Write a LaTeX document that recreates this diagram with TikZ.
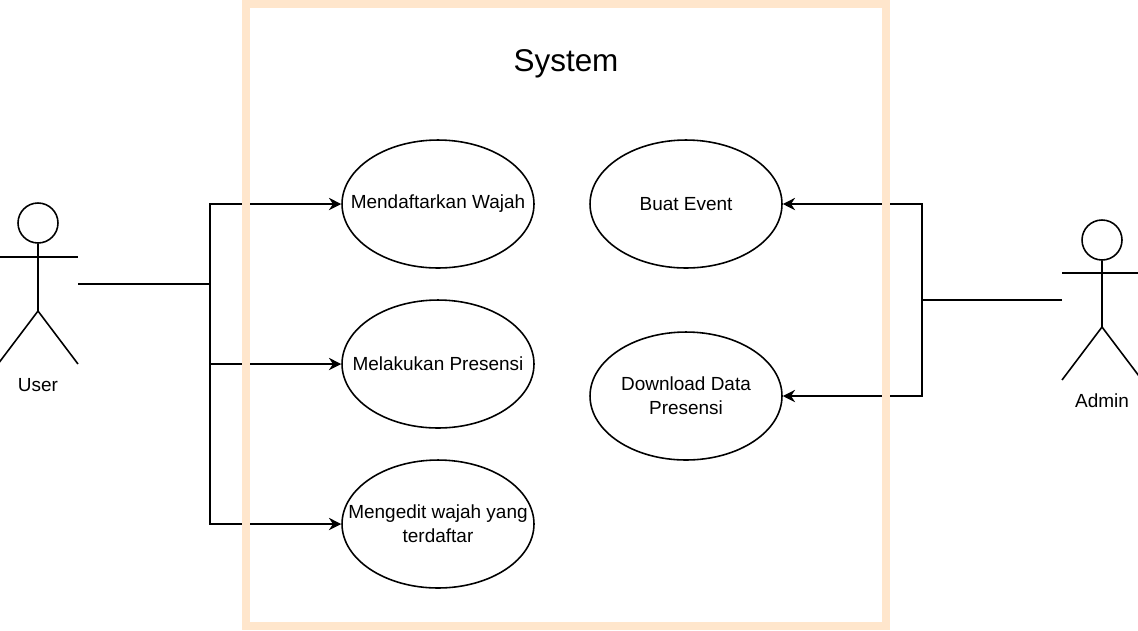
\documentclass[tikz,border=0pt]{standalone}
\usepackage{fontspec}
\setmainfont{Liberation Sans}
\usetikzlibrary{shapes.geometric,arrows.meta}
\definecolor{framecol}{HTML}{FFE6CC}
\tikzset{
	usecase/.style={draw, ellipse, line width=0.9pt, minimum width=3.84cm, minimum height=2.56cm, inner xsep=-0.8cm, inner ysep=0pt, align=center, font=\fontsize{10.8}{13.6}\selectfont},
	actorlabel/.style={font=\fontsize{10.8}{13}\selectfont},
	stick/.style={line width=0.9pt},
	link/.style={line width=0.9pt},
	linkarrow/.style={line width=0.9pt, -{Stealth[length=7pt,width=7pt]}}
}
\begin{document}
\begin{tikzpicture}[x=0.02cm,y=-0.02cm]
	\useasboundingbox (0,0) rectangle (1138,630);

	% use cases
	\node[usecase] (wajah) at (438,204) {Mendaftarkan Wajah};
	\node[usecase] (presensi) at (438,364) {Melakukan Presensi};
	\node[usecase] (edit) at (438,524) {Mengedit wajah yang\\terdaftar};
	\node[usecase] (event) at (686,204) {Buat Event};
	\node[usecase] (download) at (686,396) {Download Data\\Presensi};

	% user
	\node[draw, circle, stick, minimum size=0.8cm, inner sep=0pt] (userhead) at (38,223) {};
	\coordinate (userhip) at (38,311);
	\coordinate (userport) at (78,284);
	\coordinate (userbus) at (210,284);
	\draw[stick] (userhead) -- (userhip);
	\draw[stick] (-2,257) -- (78,257);
	\draw[stick] (-2,364) -- (userhip) -- (78,364);
	\node[actorlabel] (userlabel) at (38,385) {User};

	% admin
	\node[draw, circle, stick, minimum size=0.8cm, inner sep=0pt] (adminhead) at (1102,240) {};
	\coordinate (adminhip) at (1102,327);
	\coordinate (adminport) at (1062,300);
	\coordinate (adminbus) at (922,300);
	\draw[stick] (adminhead) -- (adminhip);
	\draw[stick] (1062,273) -- (1142,273);
	\draw[stick] (1062,380) -- (adminhip) -- (1142,380);
	\node[actorlabel] (adminlabel) at (1102,401) {Admin};

	% connectors
	\draw[link] (userport) -- (userbus);
	\draw[linkarrow] (userbus) |- (wajah.west);
	\draw[linkarrow] (userbus) |- (presensi.west);
	\draw[linkarrow] (userbus) |- (edit.west);
	\draw[link] (adminport) -- (adminbus);
	\draw[linkarrow] (adminbus) |- (event.east);
	\draw[linkarrow] (adminbus) |- (download.east);

	% system frame
	\node[draw=framecol, line width=0.16cm, minimum width=12.8cm, minimum height=12.44cm, inner sep=0pt] (system) at (566,315) {};
	\node[font=\fontsize{17.9}{20}\selectfont] (systemlabel) at (566,64) {System};
\end{tikzpicture}
\end{document}
